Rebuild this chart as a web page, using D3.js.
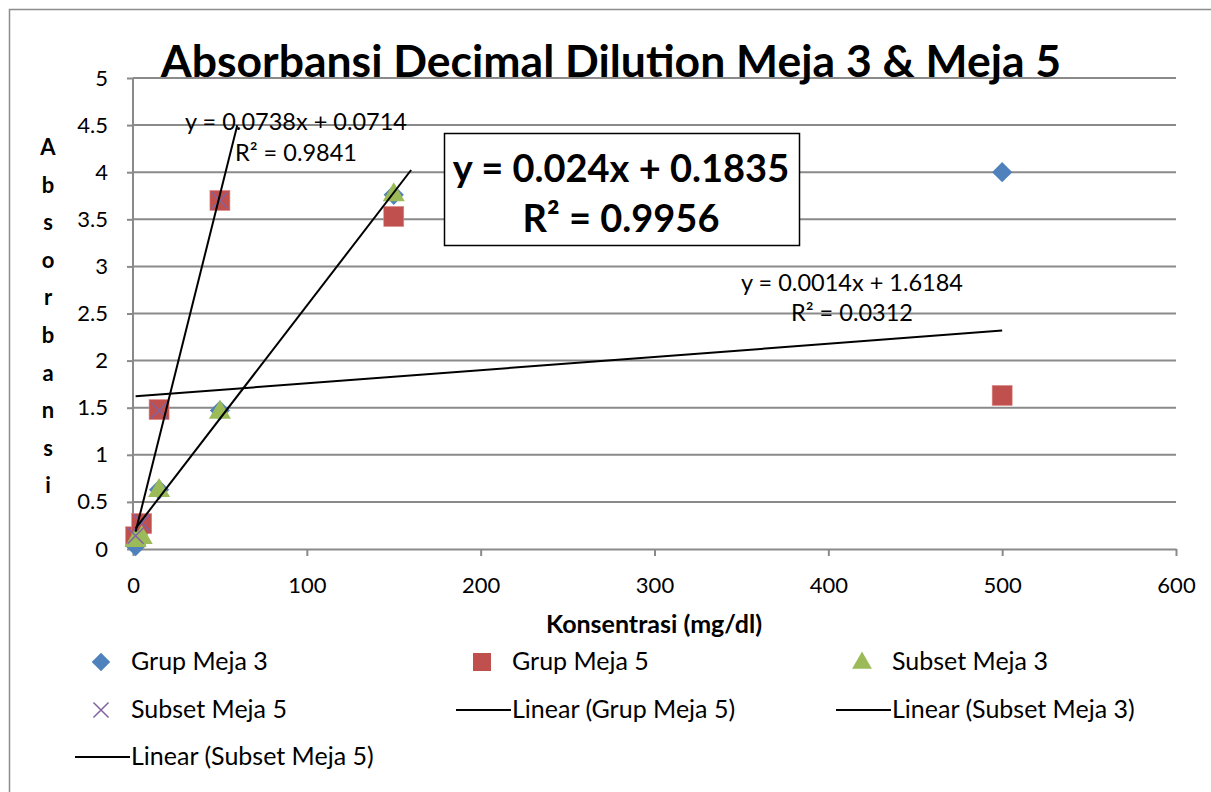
<!DOCTYPE html>
<html>
<head>
<meta charset="utf-8">
<script src="https://cdn.jsdelivr.net/npm/d3@7"></script>
<style>
  body { margin: 0; background: #fff; }
  text { font-family: Lato, "Noto Sans", sans-serif; fill: #000; }
</style>
</head>
<body>
<div id="chart"></div>
<script>
// data
var seriesNames = ["Grup Meja 3", "Grup Meja 5", "Subset Meja 3", "Subset Meja 5"];
var grupMeja3X = [1.5, 5, 15, 50, 150, 500];
var grupMeja3Y = [0.03, 0.2, 0.63, 1.47, 3.76, 4.0];
var grupMeja5X = [1.5, 5, 15, 50, 150, 500];
var grupMeja5Y = [0.13, 0.27, 1.48, 3.7, 3.53, 1.63];
var subset3X = [1.5, 5, 15, 50, 150];
var subset3Y = [0.1, 0.13, 0.63, 1.46, 3.77];
var subset5X = [1.5, 5, 15, 50];
var subset5Y = [0.14, 0.28, 1.47, 3.7];

// trendlines (Excel linear fits shown on the chart)
var trendNames = ["Linear (Grup Meja 5)", "Linear (Subset Meja 3)", "Linear (Subset Meja 5)"];
var trendSlope = [0.0014, 0.024, 0.0738];
var trendIntercept = [1.6184, 0.1835, 0.0714];
var trendFrom = [1.5, 1.5, 1.5];
var trendTo = [500, 160, 60];
var trendEq = ["y = 0.0014x + 1.6184", "y = 0.024x + 0.1835", "y = 0.0738x + 0.0714"];
var trendR2 = ["R\u00b2 = 0.0312", "R\u00b2 = 0.9956", "R\u00b2 = 0.9841"];

var xTicks = [0, 100, 200, 300, 400, 500, 600];
var yTicks = [0, 0.5, 1, 1.5, 2, 2.5, 3, 3.5, 4, 4.5, 5];

var colors = {blue: "#4F81BD", red: "#C0504D", green: "#9BBB59", purple: "#8064A2"};
var gridColor = "#8a8a8a";

var svg_width = 1211, svg_height = 792;
var margin = {top: 78, right: 35, bottom: 243, left: 133};
var width = svg_width - margin.left - margin.right;
var height = svg_height - margin.top - margin.bottom;

var svg = d3.select("#chart").append("svg")
    .attr("width", svg_width)
    .attr("height", svg_height);

svg.append("rect").attr("width", svg_width).attr("height", svg_height).attr("fill", "#fff");
// chart frame (runs off the right/bottom of the picture)
svg.append("rect")
    .attr("x", 9.5).attr("y", 9.5)
    .attr("width", 1205).attr("height", 800)
    .attr("fill", "none").attr("stroke", "#8c8c8c").attr("stroke-width", 1.5);

var g = svg.append("g")
    .attr("transform", "translate(" + margin.left + "," + margin.top + ")");

var x = d3.scaleLinear().domain([0, 600]).range([0, width]);
var y = d3.scaleLinear().domain([0, 5]).range([height, 0]);

// gridlines
g.append("g").selectAll("line")
    .data(yTicks.filter(function(d) { return d > 0; }))
    .enter().append("line")
    .attr("x1", 0).attr("x2", width)
    .attr("y1", function(d) { return y(d); })
    .attr("y2", function(d) { return y(d); })
    .attr("stroke", gridColor).attr("stroke-width", 2);

var yAxis = g.append("g")
    .call(d3.axisLeft(y).tickValues(yTicks).tickSize(6).tickPadding(19)
      .tickFormat(function(d) { return String(d); }));
var xAxis = g.append("g")
    .attr("transform", "translate(0," + height + ")")
    .call(d3.axisBottom(x).tickValues(xTicks).tickSize(7).tickPadding(21).tickSizeOuter(0));

[yAxis, xAxis].forEach(function(a) {
  a.select(".domain").attr("stroke", gridColor).attr("stroke-width", 2);
  a.selectAll(".tick line").attr("stroke", gridColor).attr("stroke-width", 2);
  a.selectAll(".tick text").style("font-family", "Lato, sans-serif").style("font-size", "22px").attr("fill", "#000");
});
yAxis.select(".domain").attr("d", "M0," + height + "V0").attr("stroke-width", 2);

// markers
function pts(xs, ys) { return xs.map(function(v, i) { return [v, ys[i]]; }); }

g.append("g").selectAll("path")
    .data(pts(grupMeja3X, grupMeja3Y)).enter().append("path")
    .attr("d", d3.symbol().type(d3.symbolDiamond2).size(260))
    .attr("transform", function(d) { return "translate(" + x(d[0]) + "," + y(d[1]) + ")"; })
    .attr("fill", colors.blue);

g.append("g").selectAll("rect")
    .data(pts(grupMeja5X, grupMeja5Y)).enter().append("rect")
    .attr("x", function(d) { return x(d[0]) - 10; })
    .attr("y", function(d) { return y(d[1]) - 10; })
    .attr("width", 20).attr("height", 20)
    .attr("fill", colors.red).attr("stroke", "#d88").attr("stroke-width", 0.6);

g.append("g").selectAll("path")
    .data(pts(subset3X, subset3Y)).enter().append("path")
    .attr("d", d3.symbol().type(d3.symbolTriangle).size(210))
    .attr("transform", function(d) { return "translate(" + x(d[0]) + "," + (y(d[1]) + 1) + ")"; })
    .attr("fill", colors.green);

g.append("g").selectAll("path")
    .data(pts(subset5X, subset5Y)).enter().append("path")
    .attr("d", d3.symbol().type(d3.symbolX).size(170))
    .attr("transform", function(d) { return "translate(" + x(d[0]) + "," + y(d[1]) + ")"; })
    .attr("fill", "none").attr("stroke", colors.purple).attr("stroke-width", 1.5);

// trendlines
var line = d3.line().x(function(d) { return x(d[0]); }).y(function(d) { return y(d[1]); });
trendSlope.forEach(function(m, i) {
  var a = trendFrom[i], b = trendTo[i];
  g.append("path")
    .datum([[a, m * a + trendIntercept[i]], [b, m * b + trendIntercept[i]]])
    .attr("d", line)
    .attr("fill", "none").attr("stroke", "#000").attr("stroke-width", 2);
});

// trendline labels
svg.append("text").attr("x", 852).attr("y", 291).attr("text-anchor", "middle")
    .style("font-size", "23.5px").text(trendEq[0]);
svg.append("text").attr("x", 852).attr("y", 321).attr("text-anchor", "middle")
    .style("font-size", "23.5px").text(trendR2[0]);
svg.append("text").attr("x", 296).attr("y", 130).attr("text-anchor", "middle")
    .style("font-size", "23.5px").text(trendEq[2]);
svg.append("text").attr("x", 296).attr("y", 161).attr("text-anchor", "middle")
    .style("font-size", "23.5px").text(trendR2[2]);

svg.append("rect").attr("x", 444.5).attr("y", 133.5).attr("width", 355).attr("height", 112)
    .attr("fill", "#fff").attr("stroke", "#000").attr("stroke-width", 1.5);
svg.append("text").attr("x", 621).attr("y", 182).attr("text-anchor", "middle")
    .style("font-size", "38px").style("font-weight", "bold").text(trendEq[1]);
svg.append("text").attr("x", 621).attr("y", 232).attr("text-anchor", "middle")
    .style("font-size", "38px").style("font-weight", "bold").text(trendR2[1]);

// title
svg.append("text").attr("x", 611).attr("y", 77).attr("text-anchor", "middle")
    .style("font-size", "44.5px").style("font-weight", "bold")
    .text("Absorbansi Decimal Dilution Meja 3 & Meja 5");

// axis titles
svg.append("text").attr("x", 654).attr("y", 633).attr("text-anchor", "middle")
    .style("font-size", "25px").style("font-weight", "bold")
    .text("Konsentrasi (mg/dl)");

var yTitle = "Absorbansi".split("");
svg.append("g").selectAll("text")
    .data(yTitle).enter().append("text")
    .attr("x", 48)
    .attr("y", function(d, i) { return 155 + i * 37.6; })
    .attr("text-anchor", "middle")
    .style("font-size", "22px").style("font-weight", "bold")
    .text(function(d) { return d; });

// legend
var legendItems = [
  {name: seriesNames[0], kind: "diamond", col: 0, row: 0},
  {name: seriesNames[1], kind: "square", col: 1, row: 0},
  {name: seriesNames[2], kind: "triangle", col: 2, row: 0},
  {name: seriesNames[3], kind: "x", col: 0, row: 1},
  {name: trendNames[0], kind: "line", col: 1, row: 1},
  {name: trendNames[1], kind: "line", col: 2, row: 1},
  {name: trendNames[2], kind: "line", col: 0, row: 2}
];
var colX = [131, 512, 892];
var rowY = [662, 710, 757];

var legend = svg.append("g");
legendItems.forEach(function(it) {
  var tx = colX[it.col], ty = rowY[it.row];
  var mx = tx - 30;
  if (it.kind == "diamond") {
    legend.append("path").attr("d", d3.symbol().type(d3.symbolDiamond2).size(220))
      .attr("transform", "translate(" + mx + "," + ty + ")").attr("fill", colors.blue);
  } else if (it.kind == "square") {
    legend.append("rect").attr("x", mx - 9).attr("y", ty - 9).attr("width", 18).attr("height", 18)
      .attr("fill", colors.red);
  } else if (it.kind == "triangle") {
    legend.append("path").attr("d", d3.symbol().type(d3.symbolTriangle).size(170))
      .attr("transform", "translate(" + mx + "," + (ty + 1) + ")").attr("fill", colors.green);
  } else if (it.kind == "x") {
    legend.append("path").attr("d", d3.symbol().type(d3.symbolX).size(150))
      .attr("transform", "translate(" + mx + "," + ty + ")")
      .attr("fill", "none").attr("stroke", colors.purple).attr("stroke-width", 1.5);
  } else {
    legend.append("line").attr("x1", tx - 56).attr("x2", tx - 1)
      .attr("y1", ty).attr("y2", ty).attr("stroke", "#000").attr("stroke-width", 2);
  }
  legend.append("text").attr("x", tx).attr("y", ty + 8)
    .style("font-size", "25px").text(it.name);
});
</script>
</body>
</html>
